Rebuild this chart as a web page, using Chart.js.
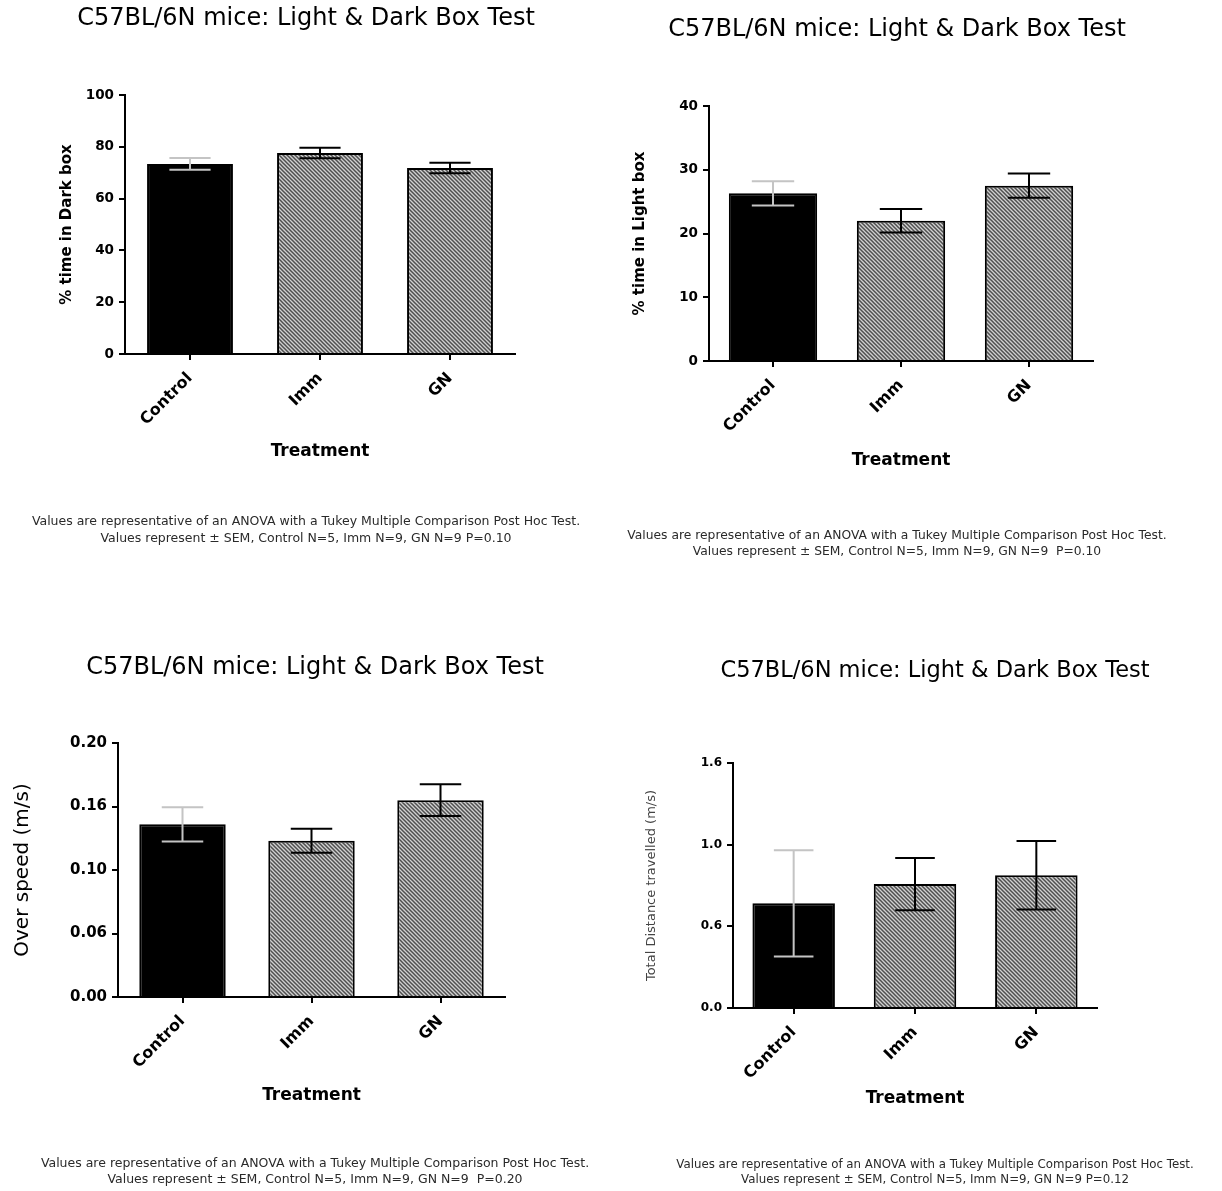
<!DOCTYPE html>
<html><head><meta charset="utf-8">
<script src="https://cdn.jsdelivr.net/npm/chart.js@4.4.1/dist/chart.umd.min.js"></script>
<style>
html,body{margin:0;padding:0;background:#fff;overflow:hidden;width:1222px;height:1191px;position:relative;}
canvas{position:absolute;}
</style></head><body>
<script>
// ---------- DATA ----------
const categories = ['Control', 'Imm', 'GN'];
const chartTitle = 'C57BL/6N mice: Light & Dark Box Test';
const xAxisTitle = 'Treatment';

const darkMean = [73.4, 77.6, 71.8];
const darkSem  = [2.3, 2.0, 2.0];
const darkTicks = ['0', '20', '40', '60', '80', '100'];

const lightMean = [26.3, 22.0, 27.5];
const lightSem  = [1.9, 1.85, 1.9];
const lightTicks = ['0', '10', '20', '30', '40'];

const speedMean = [0.136, 0.123, 0.155];
const speedSem  = [0.0135, 0.0095, 0.0125];
const speedTicks = ['0.00', '0.06', '0.10', '0.16', '0.20'];

const distMean = [0.641, 0.759, 0.813];
const distSem  = [0.325, 0.16, 0.21];
const distTicks = ['0.0', '0.6', '1.0', '1.6'];

const footLine1 = 'Values are representative of an ANOVA with a Tukey Multiple Comparison Post Hoc Test.';
const footDark  = 'Values represent ± SEM, Control N=5, Imm N=9, GN N=9 P=0.10';
const footLight = 'Values represent ± SEM, Control N=5, Imm N=9, GN N=9  P=0.10';
const footSpeed = 'Values represent ± SEM, Control N=5, Imm N=9, GN N=9  P=0.20';
const footDist  = 'Values represent ± SEM, Control N=5, Imm N=9, GN N=9 P=0.12';

// ---------- STYLE ----------
Chart.defaults.font.family = "'DejaVu Sans', 'Liberation Sans', sans-serif";
Chart.defaults.color = '#000';

function makeHatch() {
  const s = 4;
  const c = document.createElement('canvas');
  c.width = s; c.height = s;
  const g = c.getContext('2d');
  g.fillStyle = '#d0d0d0';
  g.fillRect(0, 0, s, s);
  g.strokeStyle = '#4f4f4f';
  g.lineWidth = 1.5;
  for (const k of [-s, 0, s]) {
    g.beginPath();
    g.moveTo(-s, -s + k);
    g.lineTo(2 * s, 2 * s + k);
    g.stroke();
  }
  return g.createPattern(c, 'repeat');
}
const hatch = makeHatch();

const errorBarPlugin = {
  id: 'errorBars',
  afterDatasetsDraw(chart, args, opts) {
    const ctx = chart.ctx, y = chart.scales.y;
    const meta = chart.getDatasetMeta(0);
    meta.data.forEach((bar, i) => {
      const m = opts.mean[i], e = opts.sem[i];
      const yT = y.getPixelForValue(m + e), yB = y.getPixelForValue(m - e);
      const half = bar.width * opts.capRatio;
      ctx.save();
      ctx.strokeStyle = opts.colors[i];
      ctx.lineWidth = 2;
      ctx.beginPath();
      ctx.moveTo(bar.x, yT); ctx.lineTo(bar.x, yB);
      ctx.moveTo(bar.x - half, yT); ctx.lineTo(bar.x + half, yT);
      ctx.moveTo(bar.x - half, yB); ctx.lineTo(bar.x + half, yB);
      ctx.stroke();
      ctx.restore();
    });
  }
};

function buildPanel(cfg) {
  const cv = document.createElement('canvas');
  cv.width = cfg.w; cv.height = cfg.h;
  cv.style.left = cfg.left + 'px'; cv.style.top = cfg.top + 'px';
  document.body.appendChild(cv);
  const L = v => v - cfg.left, T = v => v - cfg.top;
  const titleLH = cfg.titleSize * 1.2;
  const yTitleLH = cfg.yTitleSize * 1.2;
  const xTitleLH = 17 * 1.2;
  const subTop = T(cfg.foot1Y) - cfg.footLH / 2;
  const xAxisH = subTop - T(cfg.plotB);
  const yAxisW = L(cfg.plotL);
  const rightW = cfg.w - L(cfg.plotR);
  const tickLabels = cfg.ticks;

  new Chart(cv, {
    type: 'bar',
    data: {
      labels: categories,
      datasets: [{
        data: cfg.mean,
        backgroundColor: ['#000', hatch, hatch],
        borderColor: '#000',
        borderWidth: 2,
        barPercentage: cfg.barPct,
        categoryPercentage: 1,
        yAxisID: 'y'
      }]
    },
    options: {
      responsive: false,
      animation: false,
      devicePixelRatio: 1,
      layout: { padding: 0 },
      plugins: {
        legend: { display: false },
        tooltip: { enabled: false },
        title: {
          display: true, text: chartTitle, fullSize: true, color: '#000',
          font: { size: cfg.titleSize, weight: 'normal', lineHeight: 1.2 },
          padding: { top: T(cfg.titleY) - titleLH / 2, bottom: T(cfg.plotT) - T(cfg.titleY) - titleLH / 2 }
        },
        subtitle: {
          display: true, position: 'bottom', text: [footLine1, cfg.foot2], color: '#2a2a2a',
          font: { size: cfg.footSize, weight: 'normal', lineHeight: cfg.footLH + 'px' },
          padding: { top: 0, bottom: Math.max(0, cfg.h - subTop - 2 * cfg.footLH) }
        },
        errorBars: { mean: cfg.mean, sem: cfg.sem, colors: ['#c4c4c4', '#000', '#000'], capRatio: 0.24 }
      },
      scales: {
        x: {
          type: 'category', offset: true,
          grid: { display: true, drawOnChartArea: false, offset: false, tickLength: 6, color: '#000', lineWidth: 2 },
          border: { display: true, color: '#000', width: 2 },
          ticks: { autoSkip: false, minRotation: 45, maxRotation: 45, padding: 9, color: '#000',
                   font: { size: 16, weight: 'bold' } },
          title: { display: true, text: xAxisTitle, color: '#000',
                   font: { size: 17, weight: 'bold', lineHeight: 1.2 },
                   padding: { top: 0, bottom: subTop - T(cfg.xTitleY) - xTitleLH / 2 } },
          afterFit: s => { s.height = xAxisH; }
        },
        y: {
          position: 'left', min: 0, max: cfg.yMax,
          grid: { display: true, drawOnChartArea: false, tickLength: 6, color: '#000', lineWidth: 2 },
          border: { display: true, color: '#000', width: 2 },
          ticks: { stepSize: cfg.yStep, padding: 5, color: '#000',
                   font: { size: cfg.yTickSize, weight: 'bold' },
                   callback: (v, i) => tickLabels[i] },
          title: { display: true, text: cfg.yTitle, color: cfg.yTitleColor,
                   font: { size: cfg.yTitleSize, weight: cfg.yTitleWeight, lineHeight: 1.2 },
                   padding: { top: L(cfg.yTitleX) - yTitleLH / 2, bottom: 0 } },
          afterFit: s => { s.width = yAxisW; }
        },
        yr: {
          position: 'right', display: true,
          grid: { display: false }, border: { display: false }, ticks: { display: false },
          afterFit: s => { s.width = rightW; }
        }
      }
    },
    plugins: [errorBarPlugin]
  });
}

buildPanel({
  left: 0, top: 0, w: 612, h: 560,
  plotL: 125, plotR: 515, plotT: 95, plotB: 354,
  titleY: 19, titleSize: 24,
  yTitle: '% time in Dark box', yTitleX: 67, yTitleSize: 15, yTitleWeight: 'bold', yTitleColor: '#000',
  yTickSize: 13.5, yMax: 100, yStep: 20, ticks: darkTicks,
  xTitleY: 452, foot1Y: 522, footLH: 17, footSize: 12.5, foot2: footDark,
  mean: darkMean, sem: darkSem, barPct: 0.66
});

buildPanel({
  left: 611, top: 0, w: 572, h: 565,
  plotL: 709, plotR: 1093, plotT: 106, plotB: 361,
  titleY: 30, titleSize: 24,
  yTitle: '% time in Light box', yTitleX: 640, yTitleSize: 15, yTitleWeight: 'bold', yTitleColor: '#000',
  yTickSize: 13.5, yMax: 40, yStep: 10, ticks: lightTicks,
  xTitleY: 461, foot1Y: 536, footLH: 16, footSize: 12.3, foot2: footLight,
  mean: lightMean, sem: lightSem, barPct: 0.69
});

buildPanel({
  left: 0, top: 600, w: 630, h: 591,
  plotL: 118, plotR: 505, plotT: 743, plotB: 997,
  titleY: 668, titleSize: 24,
  yTitle: 'Over speed (m/s)', yTitleX: 23, yTitleSize: 20, yTitleWeight: 'normal', yTitleColor: '#000',
  yTickSize: 15, yMax: 0.2, yStep: 0.05, ticks: speedTicks,
  xTitleY: 1096, foot1Y: 1164, footLH: 16, footSize: 12.5, foot2: footSpeed,
  mean: speedMean, sem: speedSem, barPct: 0.67
});

buildPanel({
  left: 640, top: 600, w: 590, h: 591,
  plotL: 733, plotR: 1097, plotT: 763, plotB: 1008,
  titleY: 671, titleSize: 22.5,
  yTitle: 'Total Distance travelled (m/s)', yTitleX: 652, yTitleSize: 13, yTitleWeight: 'normal', yTitleColor: '#444',
  yTickSize: 12, yMax: 1.5, yStep: 0.5, ticks: distTicks,
  xTitleY: 1099, foot1Y: 1165, footLH: 15, footSize: 11.8, foot2: footDist,
  mean: distMean, sem: distSem, barPct: 0.68
});
</script>
</body></html>
